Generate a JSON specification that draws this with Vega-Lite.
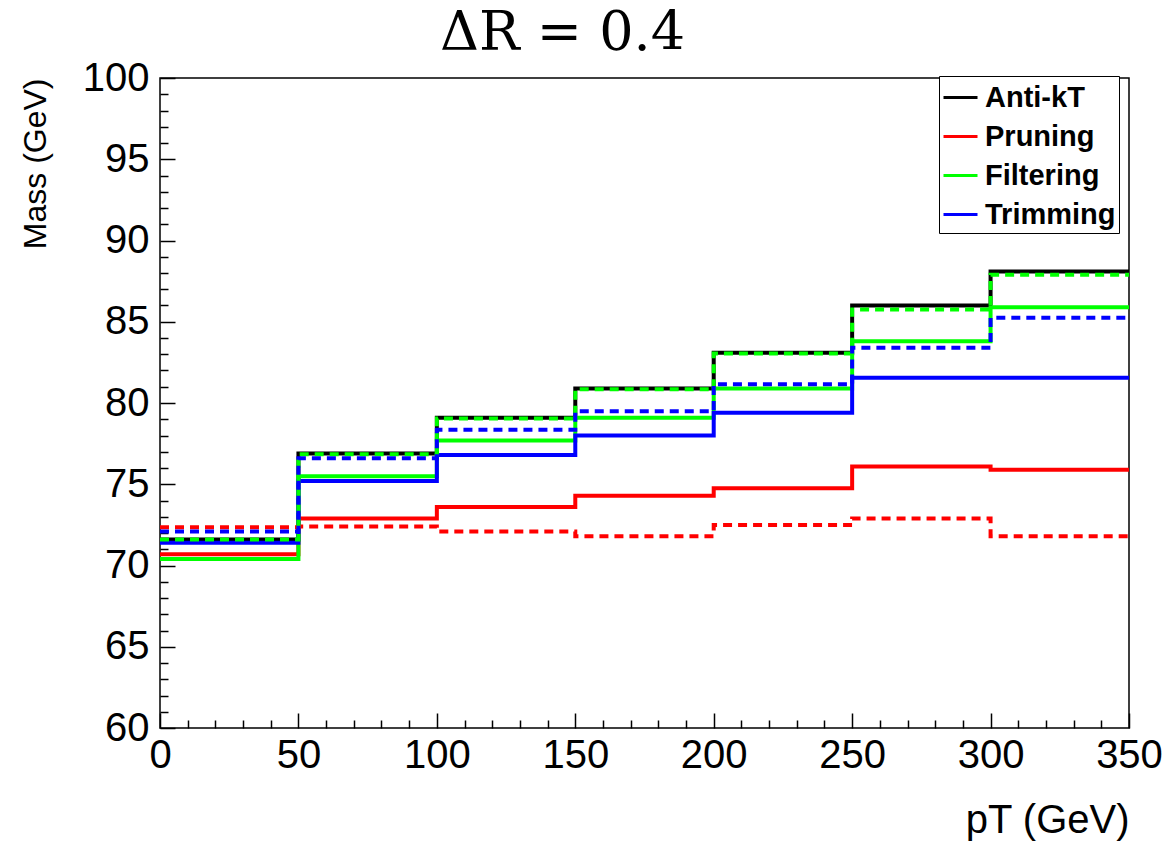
{
  "$schema": "https://vega.github.io/schema/vega-lite/v6.json",
  "width": 969,
  "height": 650,
  "autosize": {"type": "none"},
  "padding": {"left": 160, "top": 78, "right": 36, "bottom": 129},
  "background": "white",
  "title": {
    "text": "ΔR = 0.4",
    "font": "DejaVu Serif",
    "fontSize": 54,
    "fontWeight": "normal",
    "color": "black",
    "anchor": "middle",
    "frame": "group",
    "dx": -82,
    "baseline": "alphabetic",
    "offset": -46
  },
  "config": {
    "view": {"stroke": "black", "strokeWidth": 1.5},
    "axis": {
      "grid": false,
      "domain": false,
      "labelFont": "Liberation Sans",
      "labelFontSize": 40,
      "labelColor": "black",
      "titleFont": "Liberation Sans",
      "titleFontWeight": "normal",
      "titleColor": "black",
      "tickColor": "black",
      "tickWidth": 1.5
    }
  },
  "datasets": {
    "solid": [
      {"algo": "Anti-kT", "pt": 0, "mass": 71.6},
      {"algo": "Anti-kT", "pt": 50, "mass": 76.9},
      {"algo": "Anti-kT", "pt": 100, "mass": 79.1},
      {"algo": "Anti-kT", "pt": 150, "mass": 80.9},
      {"algo": "Anti-kT", "pt": 200, "mass": 83.1},
      {"algo": "Anti-kT", "pt": 250, "mass": 86.0},
      {"algo": "Anti-kT", "pt": 300, "mass": 88.1},
      {"algo": "Anti-kT", "pt": 350, "mass": 88.1},
      {"algo": "Pruning", "pt": 0, "mass": 70.7},
      {"algo": "Pruning", "pt": 50, "mass": 72.9},
      {"algo": "Pruning", "pt": 100, "mass": 73.6},
      {"algo": "Pruning", "pt": 150, "mass": 74.3},
      {"algo": "Pruning", "pt": 200, "mass": 74.75},
      {"algo": "Pruning", "pt": 250, "mass": 76.1},
      {"algo": "Pruning", "pt": 300, "mass": 75.9},
      {"algo": "Pruning", "pt": 350, "mass": 75.9},
      {"algo": "Filtering", "pt": 0, "mass": 70.4},
      {"algo": "Filtering", "pt": 50, "mass": 75.5},
      {"algo": "Filtering", "pt": 100, "mass": 77.7},
      {"algo": "Filtering", "pt": 150, "mass": 79.1},
      {"algo": "Filtering", "pt": 200, "mass": 80.9},
      {"algo": "Filtering", "pt": 250, "mass": 83.8},
      {"algo": "Filtering", "pt": 300, "mass": 85.9},
      {"algo": "Filtering", "pt": 350, "mass": 85.9},
      {"algo": "Trimming", "pt": 0, "mass": 71.4},
      {"algo": "Trimming", "pt": 50, "mass": 75.2},
      {"algo": "Trimming", "pt": 100, "mass": 76.8},
      {"algo": "Trimming", "pt": 150, "mass": 78.0},
      {"algo": "Trimming", "pt": 200, "mass": 79.4},
      {"algo": "Trimming", "pt": 250, "mass": 81.55},
      {"algo": "Trimming", "pt": 300, "mass": 81.55},
      {"algo": "Trimming", "pt": 350, "mass": 81.55}
    ],
    "dashed": [
      {"algo": "Pruning", "pt": 0, "mass": 72.35},
      {"algo": "Pruning", "pt": 50, "mass": 72.4},
      {"algo": "Pruning", "pt": 100, "mass": 72.1},
      {"algo": "Pruning", "pt": 150, "mass": 71.8},
      {"algo": "Pruning", "pt": 200, "mass": 72.5},
      {"algo": "Pruning", "pt": 250, "mass": 72.9},
      {"algo": "Pruning", "pt": 300, "mass": 71.8},
      {"algo": "Pruning", "pt": 350, "mass": 71.8},
      {"algo": "Filtering", "pt": 0, "mass": 71.6},
      {"algo": "Filtering", "pt": 50, "mass": 76.85},
      {"algo": "Filtering", "pt": 100, "mass": 79.05},
      {"algo": "Filtering", "pt": 150, "mass": 80.85},
      {"algo": "Filtering", "pt": 200, "mass": 83.05},
      {"algo": "Filtering", "pt": 250, "mass": 85.75},
      {"algo": "Filtering", "pt": 300, "mass": 87.9},
      {"algo": "Filtering", "pt": 350, "mass": 87.9},
      {"algo": "Trimming", "pt": 0, "mass": 72.1},
      {"algo": "Trimming", "pt": 50, "mass": 76.6},
      {"algo": "Trimming", "pt": 100, "mass": 78.35},
      {"algo": "Trimming", "pt": 150, "mass": 79.5},
      {"algo": "Trimming", "pt": 200, "mass": 81.15},
      {"algo": "Trimming", "pt": 250, "mass": 83.4},
      {"algo": "Trimming", "pt": 300, "mass": 85.25},
      {"algo": "Trimming", "pt": 350, "mass": 85.25}
    ]
  },
  "layer": [
    {
      "data": {"name": "solid"},
      "mark": {"type": "line", "interpolate": "step-after", "strokeWidth": 4, "strokeCap": "butt", "strokeJoin": "miter", "clip": true},
      "encoding": {
        "x": {
          "field": "pt", "type": "quantitative",
          "scale": {"domain": [0, 350], "nice": false, "zero": false},
          "axis": {
            "orient": "bottom",
            "values": [0, 50, 100, 150, 200, 250, 300, 350],
            "tickSize": -15,
            "labelPadding": 22,
            "labelFlush": false,
            "title": "pT (GeV)",
            "titleFontSize": 40,
            "titleAnchor": "end",
            "titleAlign": "right",
            "titleX": 969,
            "titleY": 104,
            "titleBaseline": "alphabetic"
          }
        },
        "y": {
          "field": "mass", "type": "quantitative",
          "scale": {"domain": [60, 100], "nice": false, "zero": false},
          "axis": {
            "orient": "left",
            "values": [60, 65, 70, 75, 80, 85, 90, 95, 100],
            "tickSize": -15,
            "labelPadding": 26,
            "labelFlush": false,
            "title": "Mass (GeV)",
            "titleFontSize": 32,
            "titleAngle": 270,
            "titleAlign": "right",
            "titleBaseline": "middle",
            "titleX": -125,
            "titleY": 0
          }
        },
        "color": {
          "field": "algo", "type": "nominal",
          "scale": {"domain": ["Anti-kT", "Pruning", "Filtering", "Trimming"], "range": ["#000000", "#ff0000", "#00ff00", "#0000ff"]},
          "sort": ["Anti-kT", "Pruning", "Filtering", "Trimming"],
          "legend": {
            "orient": "none",
            "legendX": 779,
            "legendY": -2,
            "title": null,
            "strokeColor": "black",
            "fillColor": "white",
            "padding": 3,
            "symbolType": "stroke",
            "symbolSize": 1156,
            "symbolStrokeWidth": 3,
            "labelFont": "Liberation Sans",
            "labelFontSize": 29,
            "labelFontWeight": "bold",
            "labelColor": "black",
            "labelOffset": 6,
            "rowPadding": 5,
            "labelLimit": 0
          }
        }
      }
    },
    {
      "data": {"name": "dashed"},
      "mark": {"type": "line", "interpolate": "step-after", "strokeWidth": 4, "strokeDash": [9, 6], "strokeCap": "butt", "clip": true},
      "encoding": {
        "x": {
          "field": "pt", "type": "quantitative",
          "axis": {
            "orient": "bottom",
            "values": [10, 20, 30, 40, 60, 70, 80, 90, 110, 120, 130, 140, 160, 170, 180, 190, 210, 220, 230, 240, 260, 270, 280, 290, 310, 320, 330, 340],
            "tickSize": -8,
            "labels": false,
            "title": null
          }
        },
        "y": {
          "field": "mass", "type": "quantitative",
          "axis": {
            "orient": "left",
            "values": [61, 62, 63, 64, 66, 67, 68, 69, 71, 72, 73, 74, 76, 77, 78, 79, 81, 82, 83, 84, 86, 87, 88, 89, 91, 92, 93, 94, 96, 97, 98, 99],
            "tickSize": -8,
            "labels": false,
            "title": null
          }
        },
        "color": {"field": "algo", "type": "nominal", "legend": null}
      }
    }
  ],
  "resolve": {"axis": {"x": "independent", "y": "independent"}}
}
